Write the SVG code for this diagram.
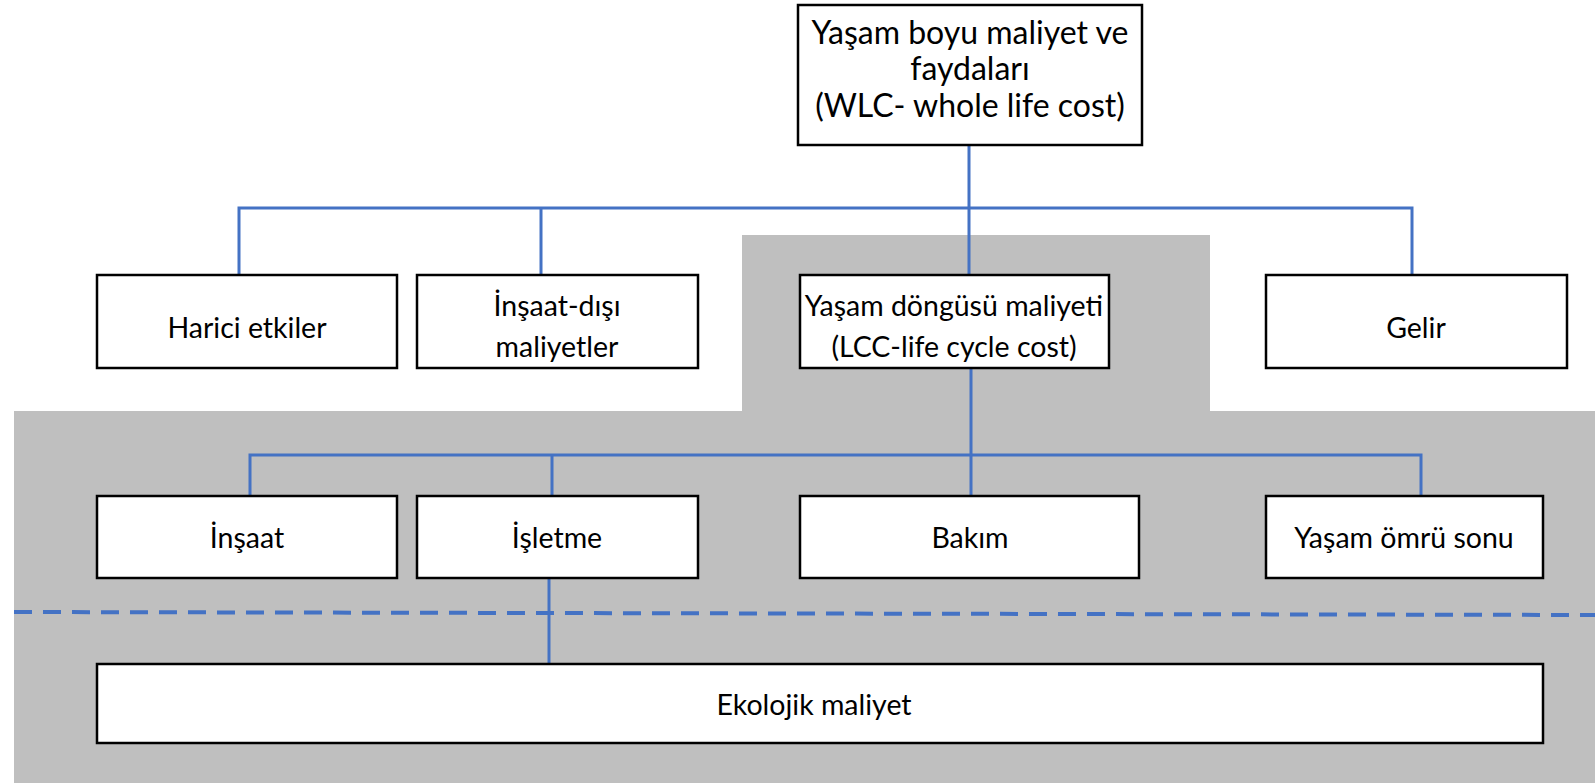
<svg xmlns="http://www.w3.org/2000/svg" width="1595" height="783" viewBox="0 0 1595 783">
<style>
.box{fill:#fff;stroke:#000;stroke-width:2.5}
.t{font-family:Lato,"Open Sans","Liberation Sans",sans-serif;font-size:28.5px;fill:#000;text-anchor:middle}
.tt{font-size:32px}
.c{fill:none;stroke:#4472c4;stroke-width:3}
.d{fill:none;stroke:#4472c4;stroke-width:4;stroke-dasharray:18 11}
</style>
<rect width="1595" height="783" fill="#fff"/>
<path id="bg" d="M742 235 H1210 V411 H1595 V783 H14 V411 H742 Z" fill="#bfbfbf"/>
<g id="connectors">
<path class="c" d="M969 145 V208 M239 275 V208 H1412 V275 M541 208 V275 M969 208 V275"/>
<path class="c" d="M971 368 V496 M250 496 V455 H1421 V496 M552 455 V496"/>
<path class="c" d="M549 578 V664"/>
<path class="d" d="M14 612 L1595 615"/>
</g>
<g id="n-wlc"><rect class="box" x="798" y="5" width="344" height="140"/>
<text class="t tt" x="970" y="44">Yaşam boyu maliyet ve</text>
<text class="t tt" x="970" y="80">faydaları</text>
<text class="t tt" x="970" y="117">(WLC- whole life cost)</text></g>
<g id="n-harici"><rect class="box" x="97" y="275" width="300" height="93"/>
<text class="t" x="247" y="338">Harici etkiler</text></g>
<g id="n-insaatdisi"><rect class="box" x="417" y="275" width="281" height="93"/>
<text class="t" x="557" y="316">İnşaat-dışı</text>
<text class="t" x="557" y="357">maliyetler</text></g>
<g id="n-lcc"><rect class="box" x="800" y="275" width="309" height="93"/>
<text class="t" x="954" y="316">Yaşam döngüsü maliyeti</text>
<text class="t" x="954" y="357">(LCC-life cycle cost)</text></g>
<g id="n-gelir"><rect class="box" x="1266" y="275" width="301" height="93"/>
<text class="t" x="1416" y="338">Gelir</text></g>
<g id="n-insaat"><rect class="box" x="97" y="496" width="300" height="82"/>
<text class="t" x="247" y="548">İnşaat</text></g>
<g id="n-isletme"><rect class="box" x="417" y="496" width="281" height="82"/>
<text class="t" x="557" y="548">İşletme</text></g>
<g id="n-bakim"><rect class="box" x="800" y="496" width="339" height="82"/>
<text class="t" x="970" y="548">Bakım</text></g>
<g id="n-sonu"><rect class="box" x="1266" y="496" width="277" height="82"/>
<text class="t" x="1404" y="548">Yaşam ömrü sonu</text></g>
<g id="n-ekolojik"><rect class="box" x="97" y="664" width="1446" height="79"/>
<text class="t" x="814" y="715">Ekolojik maliyet</text></g>
</svg>
